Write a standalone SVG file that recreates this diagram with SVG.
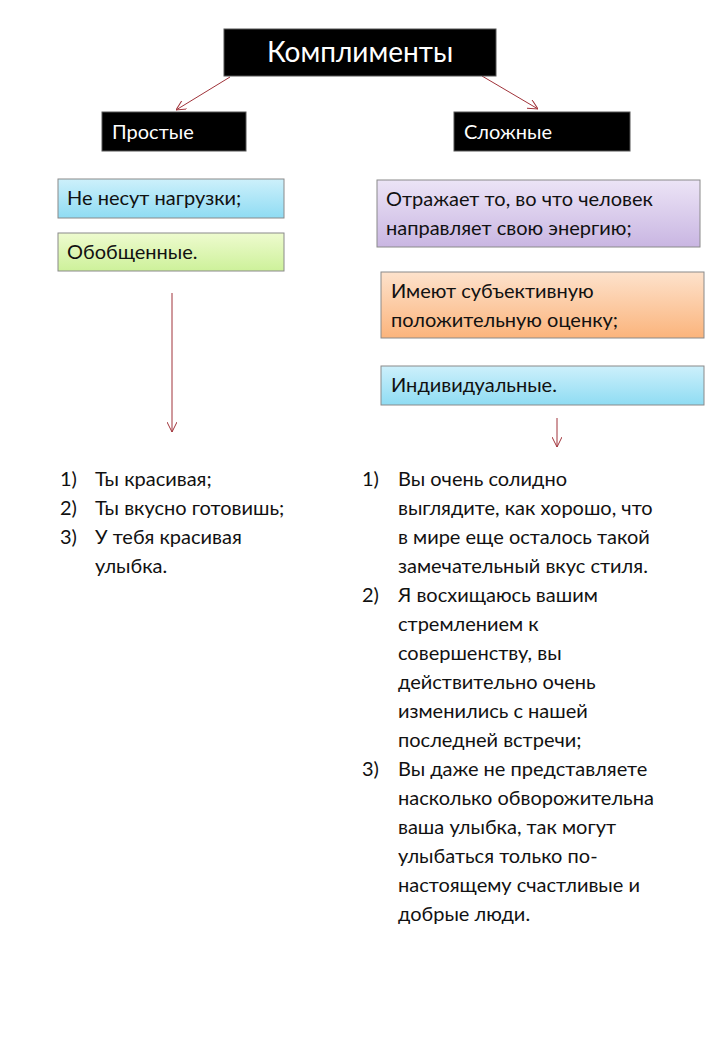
<svg xmlns="http://www.w3.org/2000/svg" width="720" height="1040" viewBox="0 0 720 1040">
<defs>
<style>
text{font-family:Lato,"Open Sans","Liberation Sans",sans-serif;font-size:20px;fill:#111}
.blk{fill:#000;stroke:#555;stroke-width:1}
.c{stroke:#a0333a;stroke-width:1;fill:none;marker-end:url(#ah)}
.b{stroke:#8a8a8a;stroke-width:1}
</style>
<marker id="ah" viewBox="0 0 10 10" refX="10" refY="5" markerWidth="10" markerHeight="10" orient="auto" markerUnits="userSpaceOnUse"><path d="M0,0 L10,5 L0,10" fill="none" stroke="#a0333a" stroke-width="1"/></marker>
<linearGradient id="gBlue" x1="0" y1="0" x2="0" y2="1"><stop offset="0" stop-color="#cdf0fb"/><stop offset="1" stop-color="#8fdcf3"/></linearGradient>
<linearGradient id="gGreen" x1="0" y1="0" x2="0" y2="1"><stop offset="0" stop-color="#eefbcf"/><stop offset="1" stop-color="#cdf19a"/></linearGradient>
<linearGradient id="gPurp" x1="0" y1="0" x2="0" y2="1"><stop offset="0" stop-color="#ece4f6"/><stop offset="1" stop-color="#c9b6e2"/></linearGradient>
<linearGradient id="gOr" x1="0" y1="0" x2="0" y2="1"><stop offset="0" stop-color="#fde2cc"/><stop offset="1" stop-color="#fbb47c"/></linearGradient>
</defs>
<rect width="720" height="1040" fill="#fff"/>
<g id="connectors">
<line class="c" x1="230" y1="77" x2="176" y2="110"/>
<line class="c" x1="482" y1="76" x2="538" y2="109"/>
<line class="c" x1="172" y1="293" x2="172" y2="432"/>
<line class="c" x1="557" y1="418" x2="557" y2="447"/>
</g>
<g id="title"><rect class="blk" x="224" y="29" width="272" height="47"/><text x="360" y="62" text-anchor="middle" style="font-size:28px;fill:#fff">Комплименты</text></g>
<g id="simple"><rect class="blk" x="102" y="112" width="144" height="39"/><text x="112" y="139" style="fill:#fff">Простые</text></g>
<g id="complex"><rect class="blk" x="454" y="112" width="176" height="39"/><text x="464" y="139" style="fill:#fff">Сложные</text></g>
<g id="s1"><rect class="b" x="58" y="179" width="226" height="39" fill="url(#gBlue)"/><text x="67" y="205">Не несут нагрузки;</text></g>
<g id="s2"><rect class="b" x="58" y="233" width="226" height="38" fill="url(#gGreen)"/><text x="67" y="259">Обобщенные.</text></g>
<g id="c1"><rect class="b" x="377" y="180" width="323" height="67" fill="url(#gPurp)"/><text x="386" y="206">Отражает то, во что человек</text><text x="386" y="235">направляет свою энергию;</text></g>
<g id="c2"><rect class="b" x="381" y="272" width="323" height="66" fill="url(#gOr)"/><text x="391" y="298">Имеют субъективную</text><text x="391" y="327">положительную оценку;</text></g>
<g id="c3"><rect class="b" x="381" y="366" width="323" height="39" fill="url(#gBlue)"/><text x="391" y="392">Индивидуальные.</text></g>
<g id="leftlist">
<text x="60" y="486">1)</text><text x="95" y="486">Ты красивая;</text>
<text x="60" y="515">2)</text><text x="95" y="515">Ты вкусно готовишь;</text>
<text x="60" y="544">3)</text><text x="95" y="544">У тебя красивая</text><text x="95" y="573">улыбка.</text>
</g>
<g id="rightlist">
<text x="362" y="486">1)</text><text x="398" y="486">Вы очень солидно</text>
<text x="398" y="515">выглядите, как хорошо, что</text>
<text x="398" y="544">в мире еще осталось такой</text>
<text x="398" y="573">замечательный вкус стиля.</text>
<text x="362" y="602">2)</text><text x="398" y="602">Я восхищаюсь вашим</text>
<text x="398" y="631">стремлением к</text>
<text x="398" y="660">совершенству, вы</text>
<text x="398" y="689">действительно очень</text>
<text x="398" y="718">изменились с нашей</text>
<text x="398" y="747">последней встречи;</text>
<text x="362" y="776">3)</text><text x="398" y="776">Вы даже не представляете</text>
<text x="398" y="805">насколько обворожительна</text>
<text x="398" y="834">ваша улыбка, так могут</text>
<text x="398" y="863">улыбаться только по-</text>
<text x="398" y="892">настоящему счастливые и</text>
<text x="398" y="921">добрые люди.</text>
</g>
</svg>
